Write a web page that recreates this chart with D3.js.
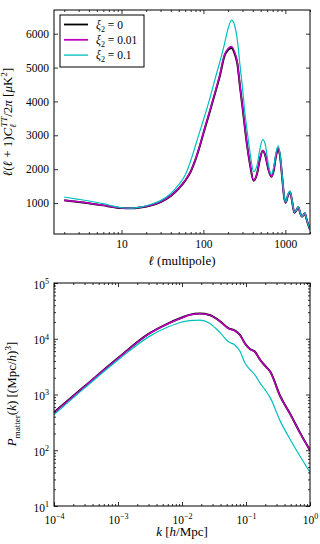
<!DOCTYPE html>
<html>
<head>
<meta charset="utf-8">
<script src="https://cdn.jsdelivr.net/npm/d3@7"></script>
<style>
body { margin: 0; background: #fff; }
svg { display: block; }
text { font-family: "Liberation Serif", "DejaVu Serif", serif; fill: #000; }
</style>
</head>
<body>
<div id="chart"></div>
<script>
const width = 320,
    height = 544

// --- top panel: CMB TT spectrum ---
const ell = [2, 3, 4, 6, 8, 10, 13, 17, 22, 30, 40, 50, 60, 70, 80, 90, 100, 120, 140, 160, 180, 200, 220, 240, 260, 280, 300, 320, 340, 370, 410, 450, 490, 530, 570, 620, 675, 720, 770, 820, 860, 920, 970, 1010, 1070, 1140, 1200, 1290, 1360, 1440, 1520, 1590, 1660, 1730, 1800, 1880, 2000]
const clXi0 = [1080, 1030, 990, 930, 880, 850, 845, 870, 920, 1030, 1210, 1430, 1660, 1930, 2280, 2670, 3060, 3710, 4280, 4790, 5330, 5520, 5580, 5420, 5100, 4420, 3830, 3250, 2730, 2150, 1660, 1850, 2300, 2540, 2400, 2000, 1775, 1950, 2400, 2610, 2400, 1700, 1150, 1010, 1200, 1330, 1100, 715, 780, 875, 700, 600, 640, 700, 560, 400, 220]
const clXi001 = [1085, 1035, 994, 934, 884, 853, 848, 873, 924, 1035, 1216, 1437, 1668, 1938, 2292, 2684, 3076, 3730, 4304, 4817, 5365, 5560, 5625, 5460, 5135, 4445, 3850, 3265, 2742, 2160, 1668, 1858, 2310, 2552, 2410, 2008, 1782, 1958, 2410, 2620, 2410, 1706, 1155, 1014, 1205, 1335, 1104, 718, 783, 878, 703, 602, 642, 702, 562, 402, 221]
const clXi01 = [1176, 1110, 1060, 980, 910, 860, 850, 880, 950, 1070, 1280, 1540, 1830, 2250, 2700, 3100, 3450, 4100, 4700, 5200, 5680, 6150, 6400, 6250, 5800, 5050, 4400, 3680, 3170, 2500, 1930, 2100, 2600, 2870, 2720, 2150, 1845, 2050, 2500, 2685, 2450, 1750, 1180, 1030, 1240, 1350, 1120, 730, 790, 885, 710, 605, 645, 705, 565, 405, 225]
const clTicks = [1000, 2000, 3000, 4000, 5000, 6000]
const ellTicks = [10, 100, 1000]

// --- bottom panel: matter power spectrum ---
const kVals = [0.0001, 0.0003, 0.001, 0.003, 0.006, 0.01, 0.013, 0.019, 0.027, 0.04, 0.052, 0.068, 0.081, 0.096, 0.115, 0.138, 0.166, 0.2, 0.24, 0.34, 0.5, 0.7, 1.0]
const pkXi0 = [477, 1400, 4500, 12200, 18700, 24000, 26800, 28300, 26700, 20300, 15700, 13900, 11600, 8300, 6550, 5850, 4200, 3250, 2550, 950, 430, 205, 100]
const pkXi001 = [472, 1390, 4460, 12100, 18550, 23800, 26600, 28100, 26500, 20150, 15550, 13750, 11500, 8220, 6480, 5790, 4160, 3220, 2520, 940, 425, 203, 99]
const pkXi01 = [434, 1300, 4150, 10800, 16200, 20000, 21200, 21500, 19000, 12600, 9000, 7600, 5900, 3700, 2800, 2250, 1600, 1200, 870, 340, 150, 78, 40]
const kTicks = [1e-4, 1e-3, 1e-2, 1e-1, 1]
const kTickExp = ['−4', '−3', '−2', '−1', '0']
const pkTicks = [10, 100, 1000, 10000, 100000]
const pkTickExp = ['1', '2', '3', '4', '5']

const legendLabels = ['0', '0.01', '0.1']
const colors = ['#000000', '#bf00bf', '#00bfbf']
const lineWidths = [2.0, 1.5, 1.2]

const svg = d3.select('#chart')
    .append('svg')
    .attr('width', width)
    .attr('height', height)

/**
 * little helper for math-ish labels (sub/superscripts via dy)
 */
function mathText(sel, parts, fs) {
    let shift = 0
    parts.forEach(function (p) {
        const t = sel.append('tspan').text(p.t)
        if (p.i) t.attr('font-style', 'italic')
        const target = p.sup ? -fs * 0.42 : (p.sub ? fs * 0.28 : 0)
        const dy = target - shift
        if (dy) t.attr('dy', dy)
        shift = target
        if (p.sup || p.sub) t.attr('font-size', fs * 0.7)
        if (p.dx) t.attr('dx', p.dx)
    })
}

function minorValues(decades, lo, hi) {
    const out = []
    decades.forEach(function (d) {
        for (let m = 2; m <= 9; m++) {
            const v = m * d
            if (v >= lo && v <= hi) out.push(v)
        }
    })
    return out
}

const tickFont = 11.5
const labelFont = 13

function drawAxes(g, x, y, opt) {
    const [x0, x1] = x.range()
    const [y0, y1] = y.range()
    // bottom
    const xb = g.append('g').attr('transform', 'translate(0,' + y0 + ')')
        .call(d3.axisBottom(x).tickValues(opt.xMajor).tickSize(-4).tickPadding(6).tickFormat(opt.xFormat || ''))
    g.append('g').attr('transform', 'translate(0,' + y0 + ')')
        .call(d3.axisBottom(x).tickValues(opt.xMinor).tickSize(-2).tickFormat(''))
    // top
    g.append('g').attr('transform', 'translate(0,' + y1 + ')')
        .call(d3.axisTop(x).tickValues(opt.xMajor).tickSize(-4).tickFormat(''))
    g.append('g').attr('transform', 'translate(0,' + y1 + ')')
        .call(d3.axisTop(x).tickValues(opt.xMinor).tickSize(-2).tickFormat(''))
    // left
    const yl = g.append('g').attr('transform', 'translate(' + x0 + ',0)')
        .call(d3.axisLeft(y).tickValues(opt.yMajor).tickSize(-4).tickPadding(5).tickFormat(opt.yFormat || ''))
    // right
    g.append('g').attr('transform', 'translate(' + x1 + ',0)')
        .call(d3.axisRight(y).tickValues(opt.yMajor).tickSize(-4).tickFormat(''))
    if (opt.yMinor) {
        g.append('g').attr('transform', 'translate(' + x0 + ',0)')
            .call(d3.axisLeft(y).tickValues(opt.yMinor).tickSize(-2).tickFormat(''))
        g.append('g').attr('transform', 'translate(' + x1 + ',0)')
            .call(d3.axisRight(y).tickValues(opt.yMinor).tickSize(-2).tickFormat(''))
    }
    g.selectAll('.domain').remove()
    g.selectAll('.tick line').attr('stroke', '#000').attr('stroke-width', 0.8)
    g.selectAll('.tick text').attr('font-size', tickFont).attr('fill', '#000')
    g.append('rect')
        .attr('x', x0).attr('y', y1)
        .attr('width', x1 - x0).attr('height', y0 - y1)
        .attr('fill', 'none').attr('stroke', '#000').attr('stroke-width', 1)
    return { xb: xb, yl: yl }
}

function drawLines(g, x, y, xs, seriesList, clipId) {
    const [x0, x1] = x.range()
    const [y0, y1] = y.range()
    g.append('clipPath').attr('id', clipId)
        .append('rect').attr('x', x0).attr('y', y1).attr('width', x1 - x0).attr('height', y0 - y1)
    const line = d3.line()
        .x(function (d) { return x(d[0]) })
        .y(function (d) { return y(d[1]) })
        .curve(d3.curveMonotoneX)
    g.append('g').attr('clip-path', 'url(#' + clipId + ')')
        .selectAll('path')
        .data(seriesList)
        .enter().append('path')
        .attr('d', function (s) { return line(d3.zip(xs, s)) })
        .attr('fill', 'none')
        .attr('stroke', function (s, i) { return colors[i] })
        .attr('stroke-width', function (s, i) { return lineWidths[i] })
        .attr('stroke-linejoin', 'round')
}

/**
 * top panel
 */
const xTop = d3.scaleLog().domain([1.5, 2000]).range([54, 310])
const yTop = d3.scaleLinear().domain([85, 6700]).range([234, 10])
const gTop = svg.append('g')
drawLines(gTop, xTop, yTop, ell, [clXi0, clXi001, clXi01], 'clipTop')
drawAxes(gTop, xTop, yTop, {
    xMajor: ellTicks,
    xMinor: minorValues([1, 10, 100, 1000], 1.5, 2000),
    yMajor: clTicks,
    xFormat: d3.format('d'),
    yFormat: d3.format('d')
})

gTop.append('text')
    .attr('x', 182).attr('y', 265)
    .attr('text-anchor', 'middle').attr('font-size', labelFont)
    .call(mathText, [{ t: 'ℓ', i: true }, { t: ' (multipole)' }], labelFont)

gTop.append('text')
    .attr('transform', 'translate(12,122) rotate(-90)')
    .attr('text-anchor', 'middle').attr('font-size', labelFont)
    .call(mathText, [
        { t: 'ℓ', i: true }, { t: '(' }, { t: 'ℓ', i: true }, { t: ' + 1)' },
        { t: 'C', i: true }, { t: 'ℓ', i: true, sub: true }, { t: 'TT', i: true, sup: true, dx: -3 },
        { t: '/2' }, { t: 'π', i: true }, { t: ' [' }, { t: 'μ', i: true }, { t: 'K' },
        { t: '2', sup: true }, { t: ']' }
    ], labelFont)

// legend
const legend = gTop.append('g')
legend.append('rect')
    .attr('x', 60).attr('y', 15).attr('width', 84).attr('height', 52)
    .attr('fill', '#fff').attr('stroke', '#000').attr('stroke-width', 1)
legendLabels.forEach(function (lab, i) {
    const ly = 24.5 + i * 15.3
    legend.append('line')
        .attr('x1', 64).attr('x2', 88).attr('y1', ly).attr('y2', ly)
        .attr('stroke', colors[i]).attr('stroke-width', lineWidths[i] < 1.5 ? 1.3 : 1.8)
    legend.append('text')
        .attr('x', 96).attr('y', ly + 4).attr('font-size', 11.5)
        .call(mathText, [{ t: 'ξ', i: true }, { t: '2', sub: true }, { t: ' = ' + lab }], 11.5)
})

/**
 * bottom panel
 */
const xBot = d3.scaleLog().domain([1e-4, 1]).range([54, 310])
const yBot = d3.scaleLog().domain([10, 1e5]).range([506, 283])
const gBot = svg.append('g')
drawLines(gBot, xBot, yBot, kVals, [pkXi0, pkXi001, pkXi01], 'clipBot')
const axBot = drawAxes(gBot, xBot, yBot, {
    xMajor: kTicks,
    xMinor: minorValues([1e-4, 1e-3, 1e-2, 1e-1], 1e-4, 1),
    yMajor: pkTicks,
    yMinor: minorValues([10, 100, 1000, 10000], 10, 1e5),
    xFormat: function () { return '' },
    yFormat: function () { return '' }
})

// power-of-ten tick labels
axBot.xb.selectAll('.tick text').each(function (d, i) {
    d3.select(this).attr('dy', '1.0em')
        .call(mathText, [{ t: '10' }, { t: kTickExp[i], sup: true }], tickFont)
})
axBot.yl.selectAll('.tick text').each(function (d, i) {
    d3.select(this).attr('dy', '0.45em')
        .call(mathText, [{ t: '10' }, { t: pkTickExp[i], sup: true }], tickFont)
})

gBot.append('text')
    .attr('x', 182).attr('y', 536)
    .attr('text-anchor', 'middle').attr('font-size', labelFont)
    .call(mathText, [{ t: 'k', i: true }, { t: ' [' }, { t: 'h', i: true }, { t: '/Mpc]' }], labelFont)

gBot.append('text')
    .attr('transform', 'translate(16,394) rotate(-90)')
    .attr('text-anchor', 'middle').attr('font-size', labelFont)
    .call(mathText, [
        { t: 'P', i: true }, { t: 'matter', sub: true }, { t: '(' }, { t: 'k', i: true },
        { t: ') [(Mpc/' }, { t: 'h', i: true }, { t: ')' }, { t: '3', sup: true }, { t: ']' }
    ], labelFont)
</script>
</body>
</html>
